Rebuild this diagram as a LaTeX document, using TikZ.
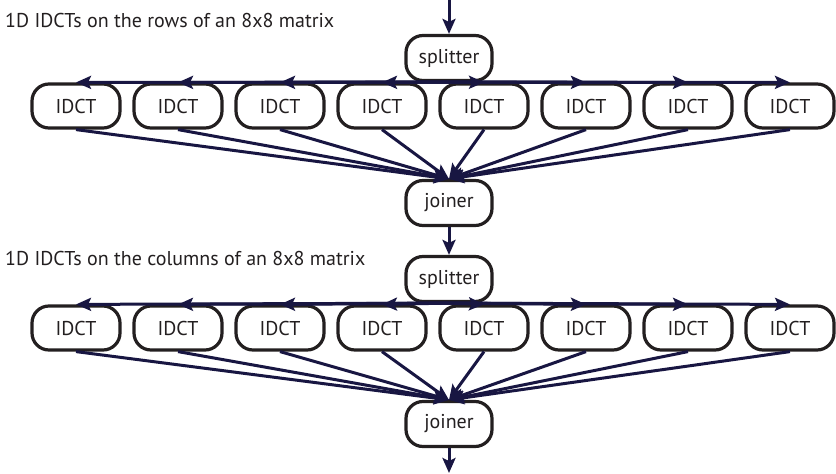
\documentclass[tikz,border=0pt]{standalone}
\usepackage{fontspec}
\setmainfont{PT Sans}
\usepackage{tikz}
\usetikzlibrary{arrows.meta, positioning}
\definecolor{flownavy}{RGB}{24,22,66}
\definecolor{boxdark}{RGB}{35,31,32}

\begin{document}
\begin{tikzpicture}[x=1pt, y=-1pt,
  blk/.style={rectangle, draw=boxdark, line width=3.2pt, rounded corners=17pt, fill=white,
              text=boxdark, font=\fontsize{20}{22}\selectfont, inner sep=0pt,
              minimum width=86pt, minimum height=45pt},
  idct/.style={blk, minimum width=88pt, minimum height=44pt},
  arr/.style={-{Stealth[length=15pt, width=13pt, inset=3pt]}, line width=3pt, flownavy},
  lbl/.style={anchor=west, text=boxdark, font=\fontsize{20}{22}\selectfont, inner sep=0pt},
]
  \useasboundingbox (0,0) rectangle (836,474);

  % first pass: rows
  \coordinate (in) at (449,0);
  \node[lbl] (cap1) at (5,20) {1D IDCTs on the rows of an 8x8 matrix};
  \node[blk] (spl1) at (449,58) {splitter};
  \foreach \i in {1,...,8}
    \node[idct] (ra\i) at ({76+(\i-1)*102},106) {IDCT};
  \node[blk] (join1) at (449,203) {joiner};

  % second pass: columns
  \node[lbl] (cap2) at (5,258) {1D IDCTs on the columns of an 8x8 matrix};
  \node[blk] (spl2) at (449,279) {splitter};
  \foreach \i in {1,...,8}
    \node[idct] (rb\i) at ({76+(\i-1)*102},328) {IDCT};
  \node[blk] (join2) at (449,424) {joiner};
  \coordinate (out) at (449,473);

  \foreach \i in {1,...,8} {
    \draw[arr] (spl1.south) -- (ra\i.north);
    \draw[arr] (ra\i.south) -- (join1.north);
    \draw[arr] (spl2.south) -- (rb\i.north);
    \draw[arr] (rb\i.south) -- (join2.north);
  }

  \draw[arr] (in) -- (spl1.north);
  \draw[arr] (join1.south) -- (spl2.north);
  \draw[arr] (join2.south) -- (out);
\end{tikzpicture}
\end{document}
